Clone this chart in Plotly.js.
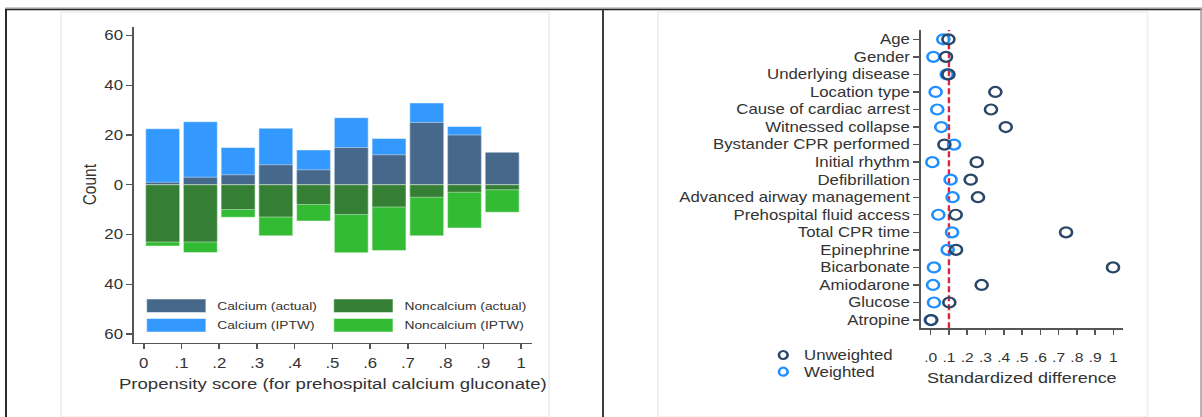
<!DOCTYPE html>
<html><head><meta charset="utf-8">
<script src="https://cdn.plot.ly/plotly-3.0.1.min.js"></script>
<style>
html,body{margin:0;padding:0;background:#fff;overflow:hidden;}
#wrap{width:1202px;height:417px;overflow:hidden;position:relative;}
#chart{width:1002px;height:417px;transform:scaleX(1.2);transform-origin:0 0;}
</style></head><body><div id="wrap"><div id="chart"></div></div>
<script>
// ---------- Data: left panel (propensity score histogram) ----------
const binCenters = [0.05, 0.15, 0.25, 0.35, 0.45, 0.55, 0.65, 0.75, 0.85, 0.95];
const calciumActual    = [1, 3, 4, 8, 6, 15, 12, 25, 20, 13];
const calciumIPTW      = [22.5, 25.3, 15.0, 22.7, 13.9, 26.9, 18.6, 32.8, 23.4, 12];
const noncalciumActual = [23, 23, 10, 13, 8, 12, 9, 5, 3, 2];
const noncalciumIPTW   = [24.6, 27.2, 13.1, 20.5, 14.6, 27.3, 26.4, 20.5, 17.4, 11.1];
const psTickVals = [0, 0.1, 0.2, 0.3, 0.4, 0.5, 0.6, 0.7, 0.8, 0.9, 1];
const psTickText = ['0', '.1', '.2', '.3', '.4', '.5', '.6', '.7', '.8', '.9', '1'];
const countTickVals = [-60, -40, -20, 0, 20, 40, 60];
const countTickText = ['60', '40', '20', '0', '20', '40', '60'];
const barNames = ['Calcium (actual)', 'Calcium (IPTW)', 'Noncalcium (actual)', 'Noncalcium (IPTW)'];

// ---------- Data: right panel (standardized differences) ----------
const covariates = ['Age', 'Gender', 'Underlying disease', 'Location type', 'Cause of cardiac arrest',
  'Witnessed collapse', 'Bystander CPR performed', 'Initial rhythm', 'Defibrillation',
  'Advanced airway management', 'Prehospital fluid access', 'Total CPR time', 'Epinephrine',
  'Bicarbonate', 'Amiodarone', 'Glucose', 'Atropine'];
const unweighted = [0.097, 0.084, 0.097, 0.354, 0.330, 0.411, 0.075, 0.252, 0.219, 0.259, 0.137, 0.741, 0.139, 0.998, 0.279, 0.102, 0.003];
const weighted   = [0.069, 0.015, 0.088, 0.027, 0.036, 0.058, 0.128, 0.009, 0.109, 0.120, 0.042, 0.117, 0.093, 0.018, 0.013, 0.018, 0.000];
const sdTickVals = [0, 0.1, 0.2, 0.3, 0.4, 0.5, 0.6, 0.7, 0.8, 0.9, 1];
const sdTickText = ['.0', '.1', '.2', '.3', '.4', '.5', '.6', '.7', '.8', '.9', '1'];
const sdNames = ['Unweighted', 'Weighted'];
const refLine = 0.1;

// ---------- Styles ----------
const W = 1002, H = 417, S = 1.2;
const fx = xo => (xo / S) / W;       // original pixel x -> paper
const fy = yo => (H - yo) / H;       // original pixel y -> paper
const FONT = 'Liberation Sans, Arial, sans-serif';
const TXT = '#333333';
const AX = '#555555';
const barColors = ['#46688b', '#3399ff', '#347f33', '#33bb33'];
const sdColors = ['#2a4767', '#1f8fff'];

const barLine = {color: 'rgba(255,255,255,0.45)', width: 1};
const neg = a => a.map(v => -v);

const traces = [
  {type: 'bar', x: binCenters, y: calciumIPTW, width: 0.09, name: barNames[1], marker: {color: barColors[1], line: barLine}, xaxis: 'x', yaxis: 'y', showlegend: false},
  {type: 'bar', x: binCenters, y: neg(noncalciumIPTW), width: 0.09, name: barNames[3], marker: {color: barColors[3], line: barLine}, xaxis: 'x', yaxis: 'y', showlegend: false},
  {type: 'bar', x: binCenters, y: calciumActual, width: 0.09, name: barNames[0], marker: {color: barColors[0], line: barLine}, xaxis: 'x', yaxis: 'y', showlegend: false},
  {type: 'bar', x: binCenters, y: neg(noncalciumActual), width: 0.09, name: barNames[2], marker: {color: barColors[2], line: barLine}, xaxis: 'x', yaxis: 'y', showlegend: false},
  {type: 'scatter', mode: 'markers', x: weighted, y: covariates, name: sdNames[1], xaxis: 'x2', yaxis: 'y2', showlegend: false,
   marker: {symbol: 'circle-open', size: 10, color: sdColors[1], line: {width: 2.2, color: sdColors[1]}}},
  {type: 'scatter', mode: 'markers', x: unweighted, y: covariates, name: sdNames[0], xaxis: 'x2', yaxis: 'y2', showlegend: false,
   marker: {symbol: 'circle-open', size: 10, color: sdColors[0], line: {width: 2.2, color: sdColors[0]}}}
];

const shapes = [];
const annotations = [];

// faint panel boxes
shapes.push({type: 'rect', xref: 'paper', yref: 'paper', x0: fx(61), x1: fx(549), y0: fy(417), y1: fy(12), line: {color: '#efefef', width: 1.5}, layer: 'below'});
shapes.push({type: 'rect', xref: 'paper', yref: 'paper', x0: fx(658), x1: fx(1147.5), y0: fy(417), y1: fy(12), line: {color: '#efefef', width: 1.5}, layer: 'below'});
// outer frame lines
shapes.push({type: 'line', xref: 'paper', yref: 'paper', x0: fx(5), x1: fx(1202), y0: fy(8), y1: fy(8), line: {color: '#9a9a9a', width: 1}});
shapes.push({type: 'line', xref: 'paper', yref: 'paper', x0: fx(5), x1: fx(1202), y0: fy(9.5), y1: fy(9.5), line: {color: '#222222', width: 1.6}});
shapes.push({type: 'line', xref: 'paper', yref: 'paper', x0: fx(6), x1: fx(6), y0: fy(9), y1: 0, line: {color: '#222222', width: 1.6}});
shapes.push({type: 'line', xref: 'paper', yref: 'paper', x0: fx(603), x1: fx(603), y0: fy(9), y1: 0, line: {color: '#333333', width: 1.6}});
shapes.push({type: 'line', xref: 'paper', yref: 'paper', x0: fx(1201), x1: fx(1201), y0: fy(9), y1: 0, line: {color: '#9a9a9a', width: 1.2}});

// reference line at 0.1
shapes.push({type: 'line', xref: 'x2', yref: 'y2 domain', x0: refLine, x1: refLine, y0: 0, y1: 1, layer: 'below',
  line: {color: '#d9263f', width: 2, dash: '6px,3px'}});

// left legend (manual keys)
const legRows = [[0, 2], [1, 3]];
const legRowY = [[299, 312.5], [318.5, 332]];
const legColX = [[146.6, 205.9], [333.7, 393]];
const legTextX = [215, 401.5];
for (let r = 0; r < 2; r++) {
  for (let c = 0; c < 2; c++) {
    const k = legRows[r][c];
    shapes.push({type: 'rect', xref: 'paper', yref: 'paper', x0: fx(legColX[c][0]), x1: fx(legColX[c][1]),
      y0: fy(legRowY[r][1]), y1: fy(legRowY[r][0]), fillcolor: barColors[k], line: {color: 'rgba(255,255,255,0.5)', width: 1}});
    annotations.push({xref: 'paper', yref: 'paper', x: fx(legTextX[c]), y: fy((legRowY[r][0] + legRowY[r][1]) / 2),
      xanchor: 'left', yanchor: 'middle', showarrow: false, text: barNames[k], font: {family: FONT, size: 11.5, color: TXT}});
  }
}

// right legend (manual keys)
const sdLegY = [355, 371.7];
for (let i = 0; i < 2; i++) {
  shapes.push({type: 'circle', xref: 'paper', yref: 'paper', xsizemode: 'pixel', ysizemode: 'pixel',
    xanchor: fx(783.3), yanchor: fy(sdLegY[i]), x0: -3.6, x1: 3.6, y0: -4.0, y1: 4.0,
    line: {color: sdColors[i], width: 2.2}});
  annotations.push({xref: 'paper', yref: 'paper', x: fx(802), y: fy(sdLegY[i]), xanchor: 'left', yanchor: 'middle',
    showarrow: false, text: sdNames[i], font: {family: FONT, size: 14, color: TXT}});
}

const layout = {
  width: W, height: H,
  margin: {l: 0, r: 0, t: 0, b: 0},
  paper_bgcolor: '#ffffff', plot_bgcolor: 'rgba(0,0,0,0)',
  barmode: 'overlay', bargap: 0,
  showlegend: false, hovermode: false,
  font: {family: FONT, color: TXT},
  xaxis: {
    domain: [fx(133.6), fx(532)], anchor: 'y', range: [-0.027, 1.029],
    tickmode: 'array', tickvals: psTickVals, ticktext: psTickText, tickangle: 0,
    ticks: 'outside', ticklen: 5, tickwidth: 1.3, tickcolor: AX,
    showline: true, linecolor: AX, linewidth: 1.5, showgrid: false, zeroline: false,
    tickfont: {family: FONT, size: 14, color: TXT}, ticklabelstandoff: 2,
    title: {text: 'Propensity score (for prehospital calcium gluconate)', font: {family: FONT, size: 15.5, color: TXT}, standoff: 8}
  },
  yaxis: {
    domain: [fy(342.7), fy(26.7)], anchor: 'x', range: [-63.5, 63.5],
    tickmode: 'array', tickvals: countTickVals, ticktext: countTickText,
    ticks: 'outside', ticklen: 4.5, tickwidth: 1.3, tickcolor: AX,
    showline: true, linecolor: AX, linewidth: 1.5, showgrid: false, zeroline: false,
    tickfont: {family: FONT, size: 14, color: TXT},
    title: {text: 'Count', font: {family: FONT, size: 15.5, color: TXT}, standoff: 2}
  },
  xaxis2: {
    domain: [fx(921), fx(1122.7)], anchor: 'y2', range: [-0.053, 1.051],
    tickmode: 'array', tickvals: sdTickVals, ticktext: sdTickText, tickangle: 0,
    ticks: 'outside', ticklen: 5, tickwidth: 1.3, tickcolor: AX,
    showline: true, linecolor: AX, linewidth: 1.5, showgrid: false, zeroline: false,
    tickfont: {family: FONT, size: 13, color: TXT}, ticklabelstandoff: 12,
    title: {text: 'Standardized difference', font: {family: FONT, size: 15, color: TXT}, standoff: 8}
  },
  yaxis2: {
    domain: [fy(328.3), fy(30)], anchor: 'x2', type: 'category',
    categoryorder: 'array', categoryarray: covariates, range: [16.47, -0.53],
    ticks: 'outside', ticklen: 5, tickwidth: 1.3, tickcolor: AX,
    showline: true, linecolor: AX, linewidth: 1.5, showgrid: false, zeroline: false,
    tickfont: {family: FONT, size: 14, color: TXT}
  },
  shapes: shapes,
  annotations: annotations
};

Plotly.newPlot('chart', traces, layout, {staticPlot: true, displayModeBar: false});
</script></body></html>
